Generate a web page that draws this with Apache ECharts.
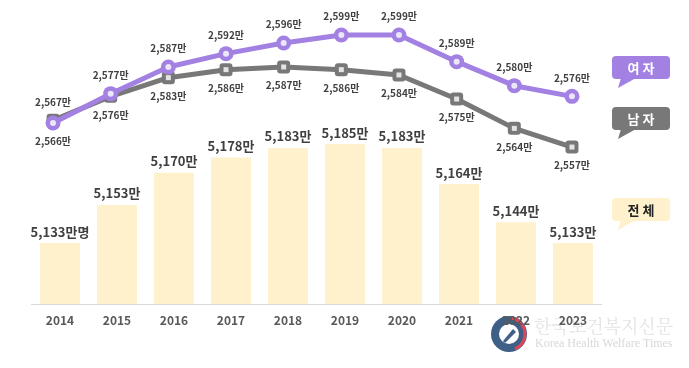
<!DOCTYPE html>
<html><head><meta charset="utf-8">
<script src="https://cdn.jsdelivr.net/npm/echarts@6/dist/echarts.min.js"></script>
<style>html,body{margin:0;padding:0;background:#fff}#c{width:689px;height:368px}</style>
</head><body><div id="c"></div>
<script>
const years = ['2014','2015','2016','2017','2018','2019','2020','2021','2022','2023'];
const total = [5133,5153,5170,5178,5183,5185,5183,5164,5144,5133];
const female = [2566,2577,2587,2592,2596,2599,2599,2589,2580,2576];
const male = [2567,2576,2583,2586,2587,2586,2584,2575,2564,2557];

const PURPLE = '#A281E3', GRAY = '#787878', CREAM = '#FFF1CC';
const FONT = '"Noto Sans CJK KR", "Noto Sans", sans-serif';
const fmt = v => v.toLocaleString('en-US');

const chart = echarts.init(document.getElementById('c'));
const lbl = {fontFamily: FONT, fontWeight: 'bold', fontSize: 10, color: '#404040'};

function callout(x, y, fill, text, txtColor) {
  return [
    {type:'polygon', shape:{points:[[x+9,y+22],[x+24,y+22],[x+6,y+32]]}, style:{fill:fill}},
    {type:'rect', shape:{x:x, y:y, width:58, height:23, r:4}, style:{fill:fill}},
    {type:'text', x:x+29, y:y+12, style:{text:text, fill:txtColor, font:'bold 13px ' + FONT, textAlign:'center', textVerticalAlign:'middle'}}
  ];
}

chart.setOption({
  animation: false,
  grid: [
    {left: 31.5, right: 87.5, top: 12, bottom: 64},
    {left: 24.2, right: 88.2, top: 12, bottom: 64}
  ],
  xAxis: [
    {type:'category', gridIndex:0, data: years, z:20,
     axisLine:{lineStyle:{color:'#D9D9D9', width:1}}, axisTick:{show:false},
     axisLabel:{fontFamily: FONT, fontWeight:'bold', fontSize:12, color:'#595959', margin:10}},
    {type:'category', gridIndex:1, data: years, show:false}
  ],
  yAxis: [
    {type:'value', gridIndex:0, min:5101, max:5254.4, show:false, splitLine:{show:false}},
    {type:'value', gridIndex:1, min:2498.2, max:2607.6, show:false, splitLine:{show:false}}
  ],
  series: [
    {type:'bar', name:'전 체', xAxisIndex:0, yAxisIndex:0, data: total, barWidth:40,
     itemStyle:{color: CREAM},
     label:{show:true, position:'top', distance:5, fontFamily: FONT, fontWeight:'bold', fontSize:13, color:'#404040',
       formatter: p => fmt(p.value) + (p.dataIndex === 0 ? '만명' : '만')}},
    {type:'line', name:'남 자', xAxisIndex:1, yAxisIndex:1, z:3,
     data: male.map((v,i) => ({value:v, label:{position: i === 0 ? 'top' : 'bottom'}})),
     symbol:'roundRect', symbolSize:13, lineStyle:{color:GRAY, width:5},
     itemStyle:{color:GRAY},
     label:Object.assign({show:true, distance:7, formatter: p => fmt(p.value) + '만'}, lbl)},
    {type:'scatter', xAxisIndex:1, yAxisIndex:1, z:3, silent:true,
     data: male, symbol:'rect', symbolSize:5, itemStyle:{color:'#FFFFFF'}},
    {type:'line', name:'여 자', xAxisIndex:1, yAxisIndex:1, z:4,
     data: female.map((v,i) => ({value:v, label:{position: i === 0 ? 'bottom' : 'top'}})),
     symbol:'circle', symbolSize:15, lineStyle:{color:PURPLE, width:5},
     itemStyle:{color:PURPLE},
     label:Object.assign({show:true, distance:6, formatter: p => fmt(p.value) + '만'}, lbl)},
    {type:'scatter', xAxisIndex:1, yAxisIndex:1, z:4, silent:true,
     data: female, symbol:'circle', symbolSize:6, itemStyle:{color:'#FFFFFF'}}
  ],
  graphic: [].concat(
    callout(612, 56, PURPLE, '여 자', '#FFFFFF'),
    callout(612, 107, GRAY, '남 자', '#FFFFFF'),
    callout(612, 198, CREAM, '전 체', '#222222'),
    [
      {type:'group', z:1, children:[
        {type:'circle', shape:{cx:509, cy:334, r:18}, style:{fill:'#3E5F86'}},
        {type:'arc', shape:{cx:509, cy:334, r:16, startAngle:-1.4, endAngle:1.2}, style:{stroke:'#E0455A', lineWidth:3, fill:null}},
        {type:'circle', shape:{cx:509, cy:334, r:10}, style:{fill:'#FFFFFF'}},
        {type:'polygon', shape:{points:[[503,341],[513,329],[516,332],[505,343]]}, style:{fill:'#3E5F86'}}
      ]},
      {type:'text', x:534, y:326, z:1, style:{text:'한국보건복지신문', fill:'rgba(215,215,215,0.7)', font:'18px "Noto Serif CJK KR", "Noto Sans CJK KR", serif', textVerticalAlign:'middle'}},
      {type:'text', x:535, y:344, z:1, style:{text:'Korea Health Welfare Times', fill:'rgba(205,205,205,0.8)', font:'12px "Liberation Serif", serif', textVerticalAlign:'middle'}}
    ]
  )
});
</script>
</body></html>
